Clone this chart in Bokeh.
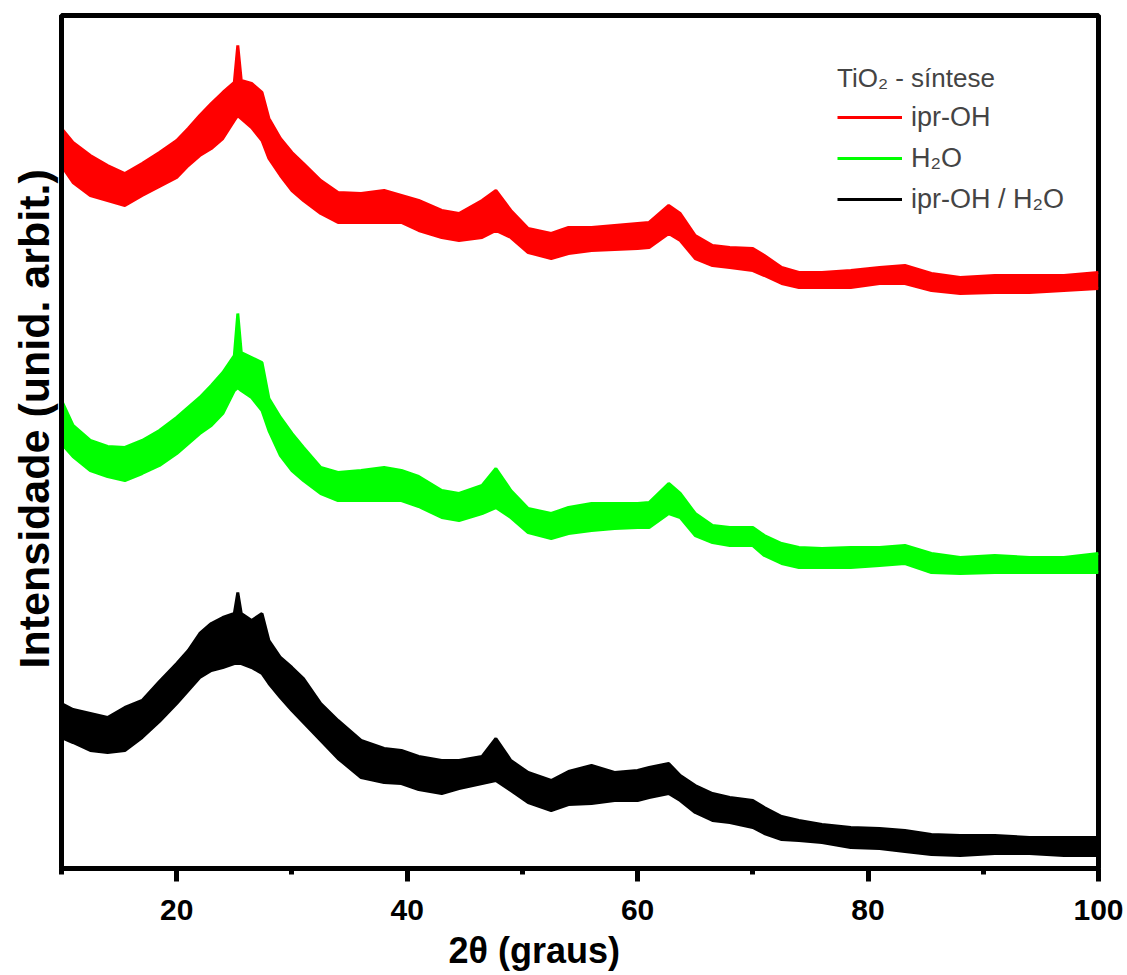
from bokeh.plotting import figure
from bokeh.models import Range1d, FixedTicker, Legend, LegendItem, Title
from bokeh.embed import file_html
from bokeh.resources import INLINE

# 2-theta sampling grid (degrees) shared by the three patterns
two_theta = [10, 11, 12.5, 14, 15.5, 17, 18.5, 20, 21, 22, 23, 24, 25, 25.3, 25.6,
             26.5, 27.4, 28, 29, 30, 31, 32.5, 34, 36, 38, 39.5, 41, 43, 44.5, 46.5,
             47.7, 49, 50.5, 52.5, 54, 56, 58, 60, 61, 62.7, 63.7, 65, 66.5, 68, 70,
             71, 72.5, 74, 76, 78.5, 81, 83.2, 85.5, 88, 91, 94, 97, 100]

# Noise band of each pattern: upper and lower envelope (arbitrary units, stacked)
iproh_hi = [740, 726, 713, 703, 695, 705, 716, 728, 740, 753, 765, 776, 786, 823, 788,
            785, 776, 750, 730, 716, 705, 688, 676, 675, 678, 673, 668, 658, 655, 668,
            678, 658, 640, 635, 641, 641, 643, 645, 646, 663, 655, 633, 623, 621, 620,
            613, 601, 596, 596, 598, 601, 603, 595, 591, 593, 593, 593, 596]
iproh_lo = [703, 686, 673, 668, 663, 673, 682, 691, 703, 713, 720, 730, 748, 753, 750,
            741, 728, 710, 693, 678, 668, 655, 646, 646, 646, 646, 638, 631, 628, 631,
            638, 631, 616, 610, 615, 618, 619, 620, 621, 635, 628, 610, 603, 601, 598,
            593, 585, 581, 581, 581, 585, 585, 578, 575, 576, 576, 578, 580]

h2o_hi = [468, 443, 428, 422, 421, 428, 438, 451, 461, 471, 483, 496, 513, 555, 516,
          511, 506, 470, 451, 435, 421, 401, 396, 398, 401, 398, 392, 378, 375, 383,
          400, 378, 360, 355, 361, 365, 365, 365, 366, 385, 375, 355, 343, 341, 341,
          333, 325, 321, 320, 321, 321, 323, 315, 311, 313, 311, 311, 315]
h2o_lo = [425, 412, 398, 392, 388, 395, 403, 415, 425, 435, 443, 455, 478, 481, 478,
          471, 458, 438, 413, 398, 388, 375, 368, 368, 368, 368, 362, 351, 348, 355,
          361, 351, 336, 330, 335, 338, 340, 341, 341, 355, 351, 333, 326, 323, 323,
          313, 305, 301, 301, 301, 303, 305, 296, 295, 296, 296, 296, 296]

mix_hi = [165, 159, 155, 151, 161, 168, 187, 205, 218, 235, 245, 251, 255, 276, 255,
          248, 255, 228, 211, 201, 190, 165, 148, 128, 120, 118, 112, 108, 108, 112,
          130, 108, 96, 88, 97, 103, 96, 98, 101, 105, 93, 83, 75, 71, 68,
          61, 52, 48, 44, 41, 40, 38, 34, 33, 33, 31, 31, 31]
mix_lo = [131, 126, 118, 116, 118, 131, 147, 165, 178, 191, 198, 201, 205, 205, 205,
          201, 195, 185, 171, 158, 146, 128, 110, 91, 86, 85, 79, 75, 80, 85,
          88, 78, 66, 58, 64, 65, 68, 68, 71, 75, 68, 56, 48, 46, 41,
          35, 29, 28, 26, 21, 20, 17, 14, 13, 15, 15, 13, 13]

series_names = ["ipr-OH", "H\u2082O", "ipr-OH / H\u2082O"]
series_colors = ["#ff0000", "#00ff00", "#000000"]
legend_title = "TiO\u2082 - s\u00edntese"
x_ticks = [20, 40, 60, 80, 100]
x_minor = [10, 30, 50, 70, 90]

FONT = "Liberation Sans"

p = figure(width=1127, height=975, output_backend="svg", toolbar_location=None,
           x_range=Range1d(10, 100), y_range=Range1d(0, 853),
           min_border_left=61, min_border_right=29, min_border_top=15,
           min_border_bottom=107)
p.background_fill_color = "white"
p.border_fill_color = "white"
p.grid.visible = False
p.outline_line_color = "black"
p.outline_line_width = 5

items = []
for hi, lo, name, col in zip([iproh_hi, h2o_hi, mix_hi], [iproh_lo, h2o_lo, mix_lo],
                             series_names, series_colors):
    p.varea(x=two_theta, y1=lo, y2=hi, fill_color=col)
    r = p.line(two_theta, hi, line_color=col, line_width=3)
    p.line(two_theta, lo, line_color=col, line_width=3)
    items.append(LegendItem(label=name, renderers=[r]))

legend = Legend(items=items, location=(776, 650), title=legend_title,
                title_text_font=FONT, title_text_font_size="26px",
                title_text_font_style="normal", title_standoff=4,
                label_text_font=FONT, label_text_font_size="27px",
                glyph_width=65, glyph_height=38, label_height=38, spacing=3,
                label_standoff=9, padding=0, margin=0,
                border_line_color=None, background_fill_alpha=0)
p.add_layout(legend)

xa = p.xaxis[0]
xa.ticker = FixedTicker(ticks=x_ticks, minor_ticks=x_minor)
xa.axis_line_width = 5
xa.major_tick_line_width = 5
xa.minor_tick_line_width = 5
xa.major_tick_out = 13
xa.major_tick_in = 0
xa.minor_tick_out = 6
xa.minor_tick_in = 0
xa.major_label_text_font = FONT
xa.major_label_text_font_style = "bold"
xa.major_label_text_font_size = "30px"
xa.major_label_text_color = "black"
xa.major_label_standoff = 18

ya = p.yaxis[0]
ya.ticker = FixedTicker(ticks=[])
ya.axis_line_width = 5
ya.major_tick_line_color = None
ya.minor_tick_line_color = None
ya.major_label_standoff = 0

# axis titles as side panels so they can be shifted along the frame
p.add_layout(Title(text="2\u03b8 (graus)", align="left", offset=387,
                   text_font=FONT, text_font_style="bold", text_font_size="36px",
                   text_color="black", standoff=10), "below")
p.add_layout(Title(text="Intensidade (unid. arbit.)", align="left", offset=200,
                   text_font=FONT, text_font_style="bold", text_font_size="43px",
                   text_color="black", standoff=8), "left")

open("out.html", "w").write(file_html(p, INLINE))
